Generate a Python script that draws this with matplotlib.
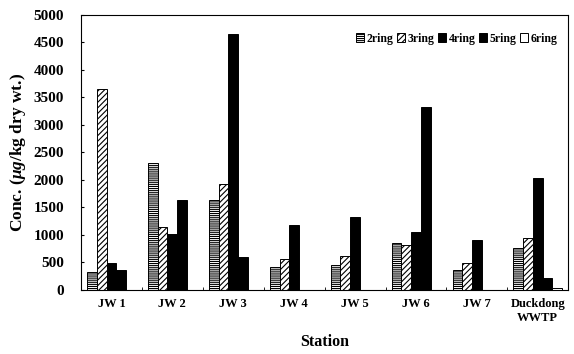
import numpy as np
import matplotlib.pyplot as plt

stations = ['JW 1', 'JW 2', 'JW 3', 'JW 4', 'JW 5', 'JW 6', 'JW 7', 'Duckdong\nWWTP']
ring2 = [320, 2300, 1640, 410, 450, 860, 370, 760]
ring3 = [3650, 1140, 1930, 560, 620, 810, 490, 940]
ring4 = [490, 1020, 4650, 1180, 1320, 1050, 910, 2030]
ring5 = [360, 1640, 600, 0, 0, 3320, 0, 220]
ring6 = [0, 0, 0, 0, 0, 0, 0, 40]
labels = ['2ring', '3ring', '4ring', '5ring', '6ring']

plt.rcParams['font.family'] = 'Liberation Serif'
plt.rcParams['font.weight'] = 'bold'
plt.rcParams['mathtext.fontset'] = 'custom'
plt.rcParams['mathtext.it'] = 'Liberation Serif:italic:bold'
plt.rcParams['mathtext.rm'] = 'Liberation Serif:bold'
plt.rcParams['hatch.linewidth'] = 0.8

fig = plt.figure(figsize=(5.74, 3.54), dpi=100)
ax = fig.add_axes([0.141, 0.181, 0.849, 0.777])

x = np.arange(len(stations))
w = 0.16
series = [ring2, ring3, ring4, ring5, ring6]
fills = ['white', 'white', 'black', 'black', 'white']
hatches = ['--------', '//////', None, None, None]
for i, (vals, fc, h, lab) in enumerate(zip(series, fills, hatches, labels)):
    ax.bar(x + (i - 2) * w, vals, w, color=fc, hatch=h, edgecolor='black',
           linewidth=0.7, label=lab)

ax.set_xlim(-0.5, len(stations) - 0.5)
ax.set_ylim(0, 5000)
ax.set_yticks(np.arange(0, 5001, 500))
ax.set_xticks(x)
ax.set_xticklabels(stations, fontsize=9, fontweight='bold')
ax.set_xticks(np.arange(-0.5, len(stations), 1), minor=True)
ax.tick_params(axis='x', which='major', length=0, pad=6)
ax.tick_params(axis='x', which='minor', length=2, direction='in')
ax.tick_params(axis='y', length=2, direction='in', labelsize=11, pad=12)
for t in ax.get_yticklabels():
    t.set_fontweight('bold')

ax.set_xlabel('Station', fontsize=11.5, fontweight='bold', labelpad=7)
ax.set_ylabel(r'Conc. ($\mu g$/kg dry wt.)', fontsize=12.5, fontweight='bold', labelpad=4)

ax.legend(loc='upper right', ncol=5, frameon=False, fontsize=8.5,
          handlelength=0.7, handleheight=0.7, handletextpad=0.2,
          columnspacing=0.3, borderpad=0.2, bbox_to_anchor=(0.995, 0.965))

fig.savefig('out.png', dpi=100)
